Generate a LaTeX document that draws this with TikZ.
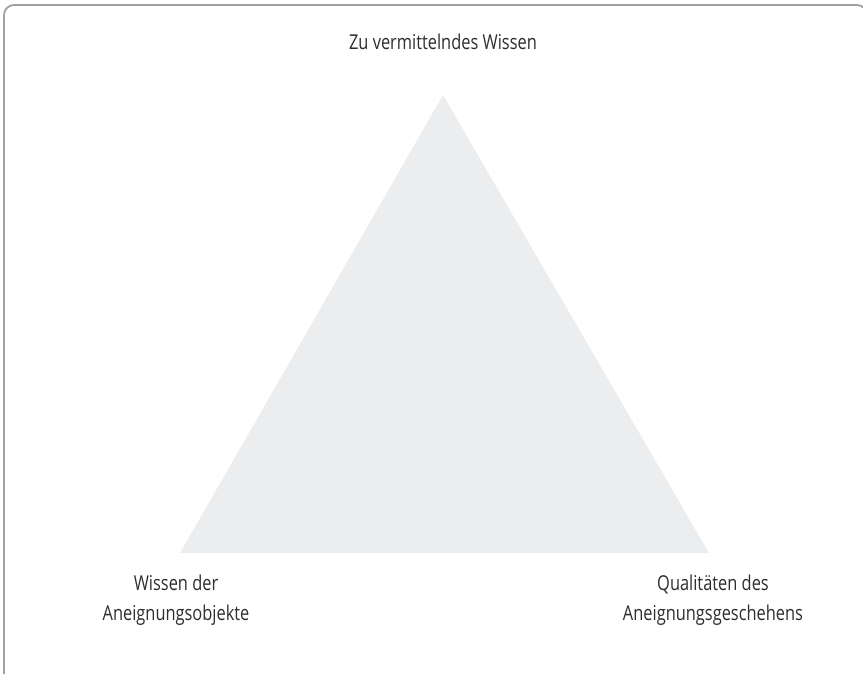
\documentclass[tikz,border=0pt]{standalone}
\usepackage{fontspec}
\setmainfont{Open Sans}[FakeStretch=0.80]
\usetikzlibrary{positioning}
\definecolor{framegray}{RGB}{160,160,160}
\definecolor{trifill}{RGB}{236,237,239}
\definecolor{textgray}{RGB}{45,45,45}
\tikzset{
  label text/.style={text=textgray, font=\fontsize{20.5}{30}\selectfont, align=center, inner sep=0pt}
}
\begin{document}
\begin{tikzpicture}[x=1pt,y=-1pt]
\useasboundingbox (0,0) rectangle (863,673);
\begin{scope}
\clip (0,0) rectangle (863,673);
\draw[framegray, line width=1.8pt, rounded corners=10pt] (4,5) rectangle (867,720);
\end{scope}

\coordinate (apex) at (443,95);
\coordinate (left) at (180,553);
\coordinate (right) at (709,553);

\fill[trifill] (apex) -- (left) -- (right) -- cycle;

\node[label text, anchor=base] (wissen) at (443,49) {Zu vermittelndes Wissen};
\node[label text, anchor=base] (objekte) at (176,620) {Wissen der\\Aneignungsobjekte};
\node[label text, anchor=base] (geschehen) at (713,620) {Qualitäten des\\Aneignungsgeschehens};
\end{tikzpicture}
\end{document}
